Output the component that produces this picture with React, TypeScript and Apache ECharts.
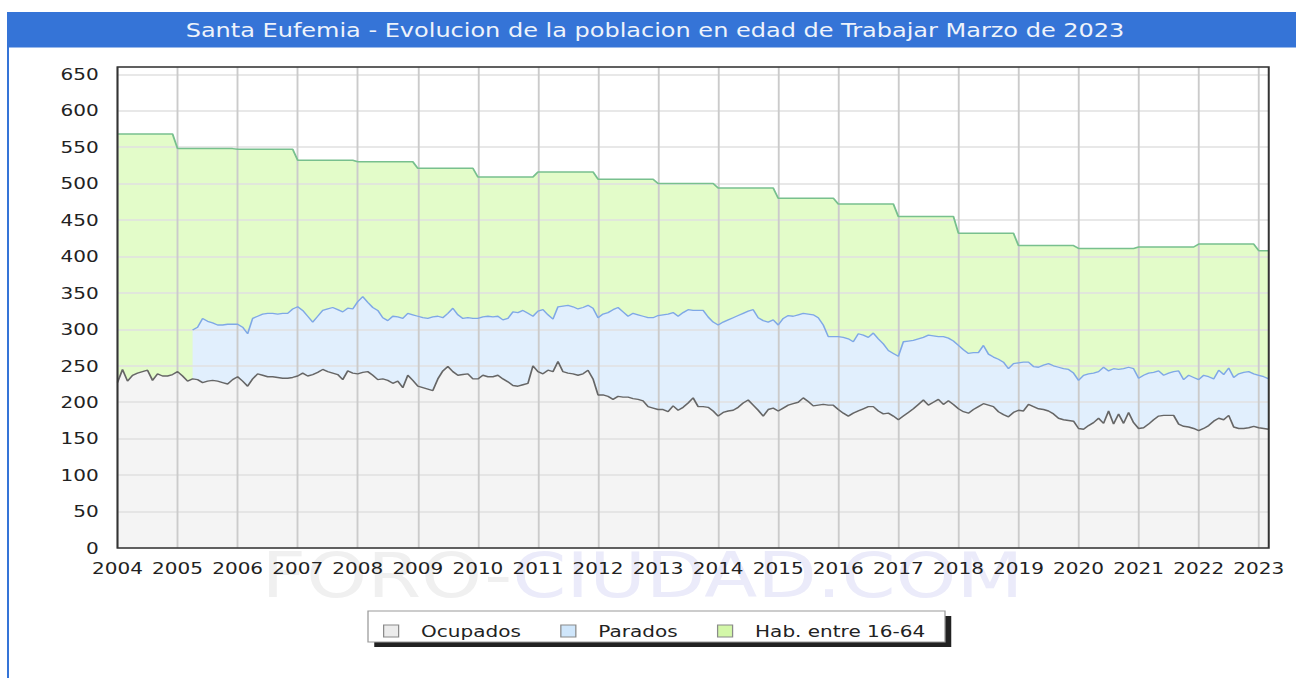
import React, { useEffect, useRef } from "react";
import * as echarts from "echarts";

// ---------- data ----------
const years = [
  2004, 2005, 2006, 2007, 2008, 2009, 2010, 2011, 2012, 2013,
  2014, 2015, 2016, 2017, 2018, 2019, 2020, 2021, 2022, 2023,
];

// Hab. entre 16-64 (one value per year, constant within the year)
const habitantesPorAno = [
  568, 548, 547, 532, 530, 521, 509, 516, 506, 500,
  494, 480, 472, 455, 432, 415, 411, 413, 417, 408,
];

// Ocupados, monthly Jan 2004 - Mar 2023
const ocupados = [
  227, 245, 229, 237, 240, 242, 244, 230, 239, 236, 236, 238,
  242, 236, 229, 232, 231, 227, 229, 230, 229, 227, 225, 231,
  235, 229, 222, 232, 239, 237, 235, 235, 234, 233, 233, 234,
  236, 240, 236, 238, 241, 245, 242, 240, 238, 231, 243, 240,
  239, 241, 242, 237, 231, 232, 230, 226, 229, 220, 237, 230,
  222, 220, 218, 216, 232, 243, 249, 242, 237, 238, 239, 232,
  232, 237, 235, 235, 237, 232, 228, 223, 222, 224, 226, 250,
  242, 239, 244, 242, 256, 242, 240, 239, 237, 239, 244, 232,
  210, 210, 208, 204, 208, 207, 207, 205, 204, 202, 194, 192,
  190, 190, 187, 195, 189, 193, 199, 206, 194, 194, 193, 188,
  181, 186, 188, 189, 193, 199, 203, 196, 189, 181, 190, 192,
  188, 192, 196, 198, 200, 206, 201, 195, 196, 197, 196, 196,
  190, 185, 181, 185, 188, 191, 194, 194, 188, 184, 185, 181,
  176, 181, 186, 191, 197, 203, 196, 200, 204, 197, 202, 197,
  191, 187, 185, 190, 194, 198, 196, 194, 187, 183, 180, 186,
  189, 188, 197, 194, 191, 190, 188, 184, 178, 176, 175, 174,
  164, 163, 168, 172, 178, 171, 188, 170, 184, 171, 186, 172,
  164, 165, 170, 176, 181, 182, 182, 182, 170, 167, 166, 164,
  161, 164, 168, 174, 178, 176, 182, 166, 164, 164, 165, 167,
  165, 164, 163,
];

// Ocupados + Parados (upper edge of the "Parados" band), monthly
const activos = [
  null, null, null, null, null, null, null, null, null, null, null, null,
  null, null, null, 299, 303, 315, 311, 309, 306, 306, 307, 307,
  307, 303, 294, 315, 318, 321, 322, 322, 321, 322, 322, 328,
  331, 326, 318, 310, 318, 326, 328, 330, 327, 324, 329, 328,
  338, 345, 337, 330, 326, 316, 312, 318, 317, 315, 322, 320,
  318, 316, 315, 317, 318, 316, 322, 329, 320, 315, 316, 315,
  315, 317, 318, 317, 318, 313, 315, 324, 323, 326, 322, 318,
  325, 327, 320, 314, 331, 332, 333, 331, 328, 330, 333, 329,
  316, 321, 323, 327, 330, 324, 318, 322, 320, 318, 316, 316,
  319, 320, 321, 323, 318, 323, 327, 326, 326, 326, 317, 310,
  306, 310, 313, 316, 319, 322, 325, 327, 316, 312, 310, 313,
  306, 315, 319, 318, 320, 322, 321, 320, 316, 306, 290, 290,
  290, 289, 287, 283, 294, 292, 289, 295, 287, 280, 271, 267,
  263, 283, 284, 285, 287, 289, 292, 291, 290, 290, 288, 284,
  278, 272, 267, 268, 268, 278, 266, 262, 259, 255, 246, 253,
  254, 255, 255, 249, 248, 251, 253, 250, 248, 246, 245, 240,
  230, 237, 239, 240, 242, 248, 243, 246, 245, 246, 248, 246,
  233, 237, 240, 241, 243, 237, 240, 242, 243, 231, 237, 234,
  231, 237, 235, 232, 244, 238, 247, 234, 239, 241, 242, 239,
  237, 235, 232,
];

const months: string[] = years.flatMap((y) =>
  Array.from({ length: y === 2023 ? 3 : 12 }, (_, k) => `${y}-${String(k + 1).padStart(2, "0")}`)
);
const habitantes = months.map((m) => habitantesPorAno[years.indexOf(Number(m.slice(0, 4)))]);

const TITLE = "Santa Eufemia - Evolucion de la poblacion en edad de Trabajar Marzo de 2023";
const NAMES = ["Ocupados", "Parados", "Hab. entre 16-64"];

// ---------- layout (unstretched px; the whole picture is stretched 1.25x horizontally) ----------
const W = 1036.8;
const H = 678;
const FONT = "'DejaVu Sans', 'Verdana', sans-serif";
const G = { left: 94, top: 67, width: 921, height: 481 };

const COL = {
  ocupFill: "#f4f4f4",
  ocupLine: "#666666",
  parFill: "#e1effd",
  parLine: "#7fa8e6",
  habFill: "#e3fcc9",
  habLine: "#78c08e",
  titleBar: "#3574d7",
};

export default function App() {
  const ref = useRef<HTMLDivElement>(null);

  useEffect(() => {
    if (!ref.current) return;
    const chart = echarts.init(ref.current, undefined, { renderer: "svg" });
    const yearTick = (i: number) => i % 12 === 0;

    const area = (name: string, data: any[], fill: string) => ({
      name,
      type: "line",
      data,
      symbol: "none",
      z: 1,
      silent: true,
      color: fill,
      lineStyle: { width: 0 },
      areaStyle: { color: fill, opacity: 1 },
    });
    const line = (name: string, data: any[], stroke: string, width: number) => ({
      name,
      type: "line",
      data,
      symbol: "none",
      z: 3,
      silent: true,
      color: stroke,
      lineStyle: { color: stroke, width },
    });

    chart.setOption({
      animation: false,
      backgroundColor: "#ffffff",
      textStyle: { fontFamily: FONT },
      grid: { ...G, containLabel: false },
      xAxis: {
        type: "category",
        data: months,
        boundaryGap: false,
        z: 2,
        axisLine: { show: false },
        axisTick: { show: false },
        axisLabel: {
          interval: yearTick,
          formatter: (v: string) => v.slice(0, 4),
          fontSize: 16,
          fontFamily: FONT,
          color: "#222",
          margin: 12,
        },
        splitLine: { show: true, interval: yearTick, lineStyle: { color: "#cbcbcb", width: 1.5 } },
      },
      yAxis: {
        type: "value",
        min: 0,
        max: 660,
        interval: 50,
        z: 2,
        axisLine: { show: false },
        axisTick: { show: false },
        axisLabel: {
          formatter: (v: number) => (v % 50 === 0 ? String(v) : ""),
          fontSize: 16,
          fontFamily: FONT,
          color: "#222",
          margin: 15,
        },
        splitLine: { show: true, lineStyle: { color: "#e1e1e1", width: 1.5 } },
      },
      legend: {
        left: 306.4,
        top: 623,
        z: 6,
        padding: 0,
        itemWidth: 12,
        itemHeight: 12,
        itemGap: 31.5,
        icon: "rect",
        selectedMode: false,
        textStyle: { fontSize: 16, fontFamily: FONT, color: "#222", padding: [0, 0, 0, 13] },
        data: [
          { name: NAMES[0], itemStyle: { color: "#ececec", borderColor: "#8a8a8a", borderWidth: 1 } },
          { name: NAMES[1], itemStyle: { color: "#cfe6fb", borderColor: "#8a8a8a", borderWidth: 1 } },
          { name: NAMES[2], itemStyle: { color: "#d3f7a8", borderColor: "#8a8a8a", borderWidth: 1 } },
        ],
      },
      series: [
        area(NAMES[2], habitantes, COL.habFill),
        area(NAMES[1], activos, COL.parFill),
        area(NAMES[0], ocupados, COL.ocupFill),
        line(NAMES[2], habitantes, COL.habLine, 1.5),
        line(NAMES[1], activos, COL.parLine, 1.3),
        line(NAMES[0], ocupados, COL.ocupLine, 1.4),
      ],
      graphic: [
        // title bar
        { type: "rect", z: 0, shape: { x: 5.6, y: 12, width: W, height: 35.5 }, style: { fill: COL.titleBar } },
        { type: "rect", z: 0, shape: { x: 5.6, y: 47, width: 1.6, height: H }, style: { fill: COL.titleBar } },
        {
          type: "text",
          z: 1,
          x: 524,
          y: 30,
          style: {
            text: TITLE,
            fill: "#eef3fb",
            font: `19.2px ${FONT}`,
            textAlign: "center",
            textVerticalAlign: "middle",
            align: "center",
            verticalAlign: "middle",
          },
        },
        // watermark
        {
          type: "text",
          z: 0,
          x: 514,
          y: 576,
          style: {
            text: "{a|FORO-}{b|CIUDAD.COM}",
            font: `62px ${FONT}`,
            textAlign: "center",
            textVerticalAlign: "middle",
            align: "center",
            verticalAlign: "middle",
            rich: {
              a: { fill: "#f0f0f0", fontSize: 62, fontFamily: FONT },
              b: { fill: "#ebebfa", fontSize: 62, fontFamily: FONT },
            },
          },
        },
        // plot frame
        {
          type: "rect",
          z: 10,
          shape: { x: G.left, y: G.top, width: G.width, height: G.height },
          style: { fill: "none", stroke: "#333", lineWidth: 1.6 },
        },
        // legend box with shadow
        { type: "rect", z: 4, shape: { x: 299.4, y: 616, width: 461.6, height: 31 }, style: { fill: "#222" } },
        {
          type: "rect",
          z: 5,
          shape: { x: 294.4, y: 611, width: 461.6, height: 31 },
          style: { fill: "#fff", stroke: "#9a9a9a", lineWidth: 1 },
        },
      ],
    });
    return () => chart.dispose();
  }, []);

  return (
    <div
      style={{
        position: "fixed",
        left: 0,
        top: 0,
        width: W,
        height: H,
        transform: "scaleX(1.25)",
        transformOrigin: "0 0",
        background: "#fff",
      }}
    >
      <div ref={ref} style={{ width: "100%", height: "100%" }} />
    </div>
  );
}
